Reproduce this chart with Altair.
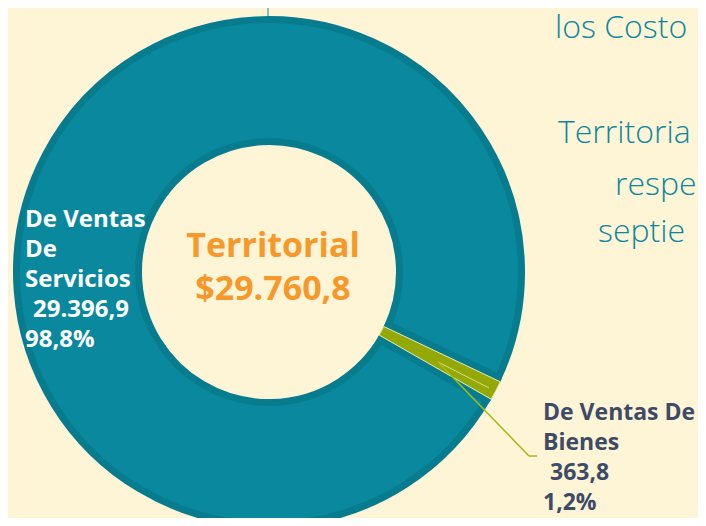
import altair as alt
import pandas as pd
import math

# ---- data ----
categories = ["De Ventas De Bienes", "De Ventas De Servicios"]
values = [363.8, 29396.9]
order_idx = [0, 1]

center_lines = ["Territorial", "$29.760,8"]
servicios_name = ["De Ventas", "De", "Servicios"]
servicios_value = "29.396,9"
servicios_pct = "98,8%"
bienes_name = ["De Ventas De", "Bienes"]
bienes_value = "363,8"
bienes_pct = "1,2%"
side_text = ["los Costo", "Territoria", "respe", "septie"]

# ---- styles ----
BG = "#fef4d6"
TEAL = "#0a889e"
TEAL_DARK = "#077c8f"
GREEN = "#94a806"
ORANGE = "#f7982a"
SLATE = "#3d4b66"
FONT = "Open Sans"

df = pd.DataFrame({"cat": categories, "val": values, "idx": order_idx})

start = math.radians(115.4)
theta_scale = alt.Scale(range=[start, start + 2 * math.pi])
CX, CY = 261, 264

base = alt.Chart(df).encode(
    theta=alt.Theta("val:Q", stack=True, scale=theta_scale),
    order=alt.Order("idx:Q"),
    x=alt.value(CX),
    y=alt.value(CY),
)

layer1 = base.mark_arc(strokeWidth=7).encode(
    fill=alt.Color("cat:N", scale=alt.Scale(domain=categories, range=[GREEN, TEAL]), legend=None),
    stroke=alt.value(TEAL_DARK),
    radius=alt.value(252.5),
    radius2=alt.value(130.5),
)

layer2 = base.mark_arc(strokeWidth=14, strokeJoin="round").encode(
    fill=alt.value(TEAL_DARK),
    stroke=alt.value(TEAL_DARK),
    opacity=alt.Opacity("cat:N", scale=alt.Scale(domain=categories, range=[1, 0]), legend=None),
    radius=alt.value(249),
    radius2=alt.value(134),
)

layer3 = base.mark_arc(strokeWidth=1).encode(
    fill=alt.value(GREEN),
    stroke=alt.value("#e9ecb8"),
    opacity=alt.Opacity("cat:N", scale=alt.Scale(domain=categories, range=[1, 0]), legend=None),
    radius=alt.value(256),
    radius2=alt.value(127),
)

one = alt.Chart(pd.DataFrame({"a": [0]}))

top_rule = one.mark_rule(color=TEAL, strokeWidth=1).encode(
    x=alt.value(260), y=alt.value(0), y2=alt.value(8)
)
leader1 = one.mark_rule(color="#a4bc14", strokeWidth=1.5).encode(
    x=alt.value(430), y=alt.value(354), x2=alt.value(521), y2=alt.value(448)
)
leader2 = one.mark_rule(color="#a4bc14", strokeWidth=1.5).encode(
    x=alt.value(521), y=alt.value(448), x2=alt.value(529), y2=alt.value(448)
)
leader3 = one.mark_rule(color="#d6e08a", strokeWidth=1).encode(
    x=alt.value(430), y=alt.value(354), x2=alt.value(481), y2=alt.value(380)
)


def txt(text, x, y, size, color, weight="bold", align="left", lh=30):
    return one.mark_text(
        font=FONT, fontSize=size, fontWeight=weight, color=color,
        align=align, baseline="alphabetic", lineHeight=lh,
    ).encode(x=alt.value(x), y=alt.value(y), text=alt.value(text))


texts = [
    txt(center_lines, 265, 249, 34, ORANGE, align="center", lh=43),
    txt(servicios_name, 17, 219, 24, "white"),
    txt(servicios_value, 25, 309, 24, "white"),
    txt(servicios_pct, 17, 339, 24, "white"),
    txt(bienes_name, 535, 412, 23, SLATE),
    txt(bienes_value, 542, 472, 23, SLATE),
    txt(bienes_pct, 535, 502, 23, SLATE),
]

side_pos = [(547, 30), (550, 135), (607, 187), (590, 234)]
for t, (sx, sy) in zip(side_text, side_pos):
    texts.append(txt(t, sx, sy, 32, TEAL, weight=300))

chart = alt.layer(
    layer1, layer2, layer3, top_rule, leader3, leader1, leader2, *texts
).properties(
    width=690, height=510,
    autosize=alt.AutoSizeParams(type="none"),
    padding=0,
    background=BG,
).configure_view(stroke=None)

chart.save("out.html", embed_options={"renderer": "svg", "actions": False})
